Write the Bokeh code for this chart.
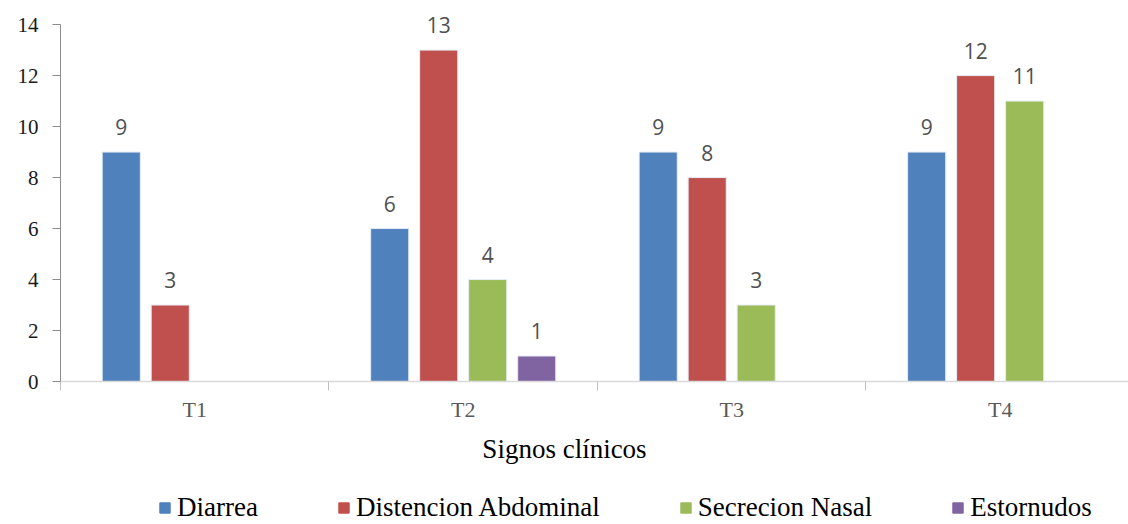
from bokeh.plotting import figure
from bokeh.layouts import column
from bokeh.models import (ColumnDataSource, FixedTicker, Range1d, Legend, LegendItem,
                          CustomJSTickFormatter, Label)
from bokeh.core.properties import value
from bokeh.embed import file_html
from bokeh.resources import INLINE

# Clinical signs per treatment group
categories = ["T1", "T2", "T3", "T4"]
series_names = ["Diarrea", "Distencion Abdominal", "Secrecion Nasal", "Estornudos"]
diarrea = [9, 6, 9, 9]
distencion = [3, 13, 8, 12]
secrecion = [0, 4, 3, 11]
estornudos = [0, 1, 0, 0]
y_ticks = [0, 2, 4, 6, 8, 10, 12, 14]
x_title = "Signos clínicos"

colors = ["#4F81BD", "#C0504D", "#9BBB59", "#8064A2"]
series_values = [diarrea, distencion, secrecion, estornudos]

centers = [i + 0.5 for i in range(len(categories))]
bar_w = 0.142
step = 0.1825

p = figure(width=1128, height=426, output_backend="svg", toolbar_location=None,
           x_range=Range1d(0, 3.978), y_range=Range1d(0, 14.75),
           min_border_left=60, min_border_right=0, min_border_top=5,
           min_border_bottom=45)
p.outline_line_color = None
p.grid.grid_line_color = None
p.background_fill_color = "white"
p.border_fill_color = "white"

sources = []
for k, (vals, col) in enumerate(zip(series_values, colors)):
    off = (k - 1.5) * step
    xs = [c + off for c, v in zip(centers, vals) if v > 0]
    ys = [v for v in vals if v > 0]
    src = ColumnDataSource(dict(x=xs, top=ys, lbl=[str(v) for v in ys]))
    sources.append(src)
    p.vbar(x="x", top="top", bottom=0, width=bar_w, source=src,
           fill_color=col, line_color="#E6ECF4", line_width=1)
    p.text(x="x", y="top", text="lbl", source=src, text_align="center",
           text_baseline="alphabetic", y_offset=-25, text_color="#505050",
           text_font=value("Open Sans"), text_font_size="21px")

# x axis: labels at group centres, tick marks at group boundaries
xa = p.xaxis[0]
xa.ticker = FixedTicker(ticks=centers, minor_ticks=[0, 1, 2, 3, 4])
xa.formatter = CustomJSTickFormatter(args=dict(cats=categories),
                                     code="return cats[Math.floor(tick)];")
xa.major_tick_line_color = None
xa.major_tick_out = 0
xa.minor_tick_line_color = "#BFBFBF"
xa.minor_tick_out = 9
xa.minor_tick_in = 0
xa.axis_line_color = "#D9D9D9"
xa.axis_line_width = 1.5
xa.major_label_text_font = "Liberation Serif"
xa.major_label_text_font_size = "22px"
xa.major_label_text_color = "#595959"
xa.major_label_standoff = 6

ya = p.yaxis[0]
ya.ticker = FixedTicker(ticks=y_ticks)
ya.bounds = (0, 14)
ya.minor_tick_line_color = None
ya.major_tick_out = 8
ya.major_tick_in = 0
ya.major_tick_line_color = "#8C8C8C"
ya.axis_line_color = "#8C8C8C"
ya.major_label_text_font = "Liberation Serif"
ya.major_label_text_font_size = "21px"
ya.major_label_text_color = "#1A1A1A"
ya.major_label_standoff = 14

# strip underneath: axis title and legend (its ranges keep the bars out of view)
leg = figure(width=1128, height=98, output_backend="svg", toolbar_location=None,
             x_range=Range1d(100, 101), y_range=Range1d(100, 101),
             min_border=0, x_axis_location=None, y_axis_location=None)
leg.outline_line_color = None
leg.grid.grid_line_color = None
leg.add_layout(Label(x=504, y=76, x_units="screen", y_units="screen", text=x_title,
                     text_align="center", text_baseline="middle",
                     text_font="Liberation Serif", text_font_size="27px",
                     text_color="#000000"))
items = []
for name, col, src in zip(series_names, colors, sources):
    r = leg.vbar(x="x", top="top", bottom=0, width=bar_w, source=src,
                 fill_color=col, line_color=col)
    items.append(LegendItem(label=name, renderers=[r]))
legend = Legend(items=items, orientation="horizontal", location=(98, 1),
                spacing=79, label_standoff=6, glyph_width=13, glyph_height=13,
                label_text_font="Liberation Serif", label_text_font_size="27px",
                label_text_color="#000000", border_line_color=None,
                background_fill_alpha=0, padding=0, margin=0)
leg.add_layout(legend)

open("out.html", "w").write(file_html(column(p, leg, spacing=0), INLINE))
